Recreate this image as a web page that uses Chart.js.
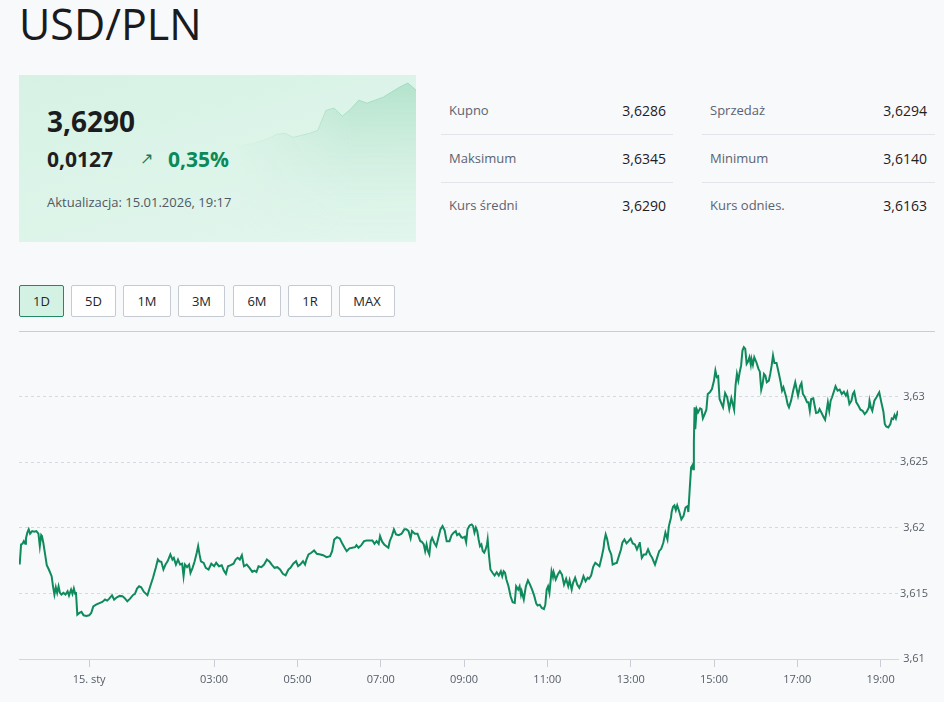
<!DOCTYPE html>
<html lang="pl">
<head>
<meta charset="utf-8">
<title>USD/PLN</title>
<script src="https://cdn.jsdelivr.net/npm/chart.js@4.4.1/dist/chart.umd.min.js"></script>
<style>
  html, body { margin: 0; padding: 0; }
  body {
    width: 944px; height: 702px; position: relative; overflow: hidden;
    background: #f8f9fa; font-family: "Open Sans", sans-serif; color: #1d1f22;
  }
  .abs { position: absolute; line-height: 1; white-space: nowrap; }
  h1 { position: absolute; left: 19px; top: 2px; margin: 0; font-size: 43px; font-weight: 400; line-height: 1; color: #1a1b1e; }
  .card { position: absolute; left: 19px; top: 75px; width: 397px; height: 167px; background: linear-gradient(165deg, #d7f2e5 0%, #e2f6ed 100%); }
  .spark { position: absolute; left: 236px; top: 75px; width: 180px; height: 167px;
    -webkit-mask-image: linear-gradient(to right, transparent 0%, #000 65%); mask-image: linear-gradient(to right, transparent 0%, #000 65%); }
  .big { font-size: 28px; font-weight: 700; color: #1b1c1f; }
  .chg { font-size: 21px; font-weight: 700; }
  .up { color: #0a8a58; }
  .upd { font-size: 13px; color: #4f5864; }
  .lbl { font-size: 13px; font-weight: 500; color: #5b6371; }
  .val { font-size: 14px; font-weight: 500; color: #1e2023; }
  .sep { position: absolute; height: 1px; background: #e2e4e9; }
  .btn { position: absolute; top: 285px; height: 32px; box-sizing: border-box; border: 1px solid #c5c9d1; border-radius: 2px;
    background: #fff; font-size: 13px; font-weight: 500; line-height: 30px; text-align: center; color: #23252a; }
  .btn.on { background: #d3f2e4; border-color: #1f8a63; }
  .rule { position: absolute; left: 19px; top: 331px; width: 916px; height: 1px; background: #c9ccd9; }
  .plot { position: absolute; left: 19px; top: 331px; width: 925px; height: 371px; }
</style>
</head>
<body>
<h1>USD/PLN</h1>

<div class="card"></div>
<div class="spark"><canvas id="trend"></canvas></div>
<div class="abs big" style="left:47px; top:107px;">3,6290</div>
<div class="abs chg" style="left:47px; top:149px;">0,0127</div>
<div class="abs up" style="left:140px; top:150px; font-size:16px; color:#1b7a55;">↗</div>
<div class="abs chg up" style="left:168px; top:149px;">0,35%</div>
<div class="abs upd" style="left:47px; top:196px;">Aktualizacja: 15.01.2026, 19:17</div>

<div class="abs lbl" style="left:449px; top:104px;">Kupno</div>
<div class="abs val" style="right:278px; top:104px;">3,6286</div>
<div class="abs lbl" style="left:710px; top:104px;">Sprzedaż</div>
<div class="abs val" style="right:17px; top:104px;">3,6294</div>
<div class="sep" style="left:441px; top:134px; width:232px;"></div>
<div class="sep" style="left:702px; top:134px; width:233px;"></div>
<div class="abs lbl" style="left:449px; top:152px;">Maksimum</div>
<div class="abs val" style="right:278px; top:152px;">3,6345</div>
<div class="abs lbl" style="left:710px; top:152px;">Minimum</div>
<div class="abs val" style="right:17px; top:152px;">3,6140</div>
<div class="sep" style="left:441px; top:182px; width:232px;"></div>
<div class="sep" style="left:702px; top:182px; width:233px;"></div>
<div class="abs lbl" style="left:449px; top:199px;">Kurs średni</div>
<div class="abs val" style="right:278px; top:199px;">3,6290</div>
<div class="abs lbl" style="left:710px; top:199px;">Kurs odnies.</div>
<div class="abs val" style="right:17px; top:199px;">3,6163</div>

<div class="btn on" style="left:19px; width:45px;">1D</div>
<div class="btn" style="left:71px; width:45px;">5D</div>
<div class="btn" style="left:123px; width:48px;">1M</div>
<div class="btn" style="left:178px; width:47px;">3M</div>
<div class="btn" style="left:233px; width:48px;">6M</div>
<div class="btn" style="left:288px; width:44px;">1R</div>
<div class="btn" style="left:339px; width:56px;">MAX</div>

<div class="rule"></div>
<div class="plot"><canvas id="kurs"></canvas></div>

<script>
// notowania USD/PLN, 14.01 22:20 -> 15.01 19:25 (czas lokalny)
const times = [
  "22:20","22:22","22:24","22:26","22:28","22:29","22:31","22:33","22:35","22:38",
  "22:41","22:44","22:47","22:49","22:51","22:52","22:54","22:57","22:59","23:02",
  "23:06","23:08","23:10","23:12","23:14","23:16","23:18","23:20","23:23","23:26",
  "23:29","23:31","23:34","23:36","23:38","23:40","23:41","23:43","23:46","23:49",
  "23:52","23:56","00:00","00:03","00:06","00:10","00:14","00:19","00:23","00:26",
  "00:29","00:33","00:36","00:40","00:44","00:48","00:51","00:55","00:59","01:03",
  "01:06","01:09","01:12","01:15","01:19","01:24","01:27","01:32","01:36","01:39",
  "01:41","01:44","01:47","01:50","01:53","01:57","02:00","02:02","02:05","02:08",
  "02:11","02:14","02:16","02:18","02:21","02:24","02:26","02:29","02:32","02:35",
  "02:37","02:39","02:41","02:45","02:48","02:52","02:56","03:00","03:03","03:07",
  "03:11","03:14","03:17","03:20","03:24","03:28","03:31","03:34","03:37","03:40",
  "03:43","03:47","03:51","03:55","03:58","04:01","04:04","04:08","04:12","04:16",
  "04:20","04:23","04:27","04:31","04:35","04:39","04:43","04:47","04:50","04:54",
  "04:58","05:01","05:04","05:08","05:11","05:13","05:16","05:20","05:24","05:28",
  "05:33","05:37","05:42","05:47","05:50","05:53","05:57","06:01","06:04","06:08",
  "06:11","06:15","06:19","06:23","06:25","06:28","06:32","06:36","06:40","06:44",
  "06:48","06:51","06:54","06:57","06:59","07:02","07:05","07:08","07:11","07:13",
  "07:16","07:19","07:22","07:26","07:30","07:34","07:37","07:40","07:43","07:45",
  "07:49","07:53","07:57","07:59","08:02","08:04","08:06","08:08","08:10","08:12",
  "08:14","08:17","08:20","08:23","08:26","08:29","08:32","08:35","08:39","08:42",
  "08:45","08:48","08:50","08:53","08:56","08:58","09:01","09:03","09:05","09:08",
  "09:11","09:13","09:15","09:17","09:19","09:21","09:23","09:25","09:27","09:29",
  "09:31","09:33","09:34","09:36","09:38","09:41","09:44","09:47","09:50","09:53",
  "09:55","09:57","09:59","10:01","10:04","10:07","10:10","10:13","10:15","10:18",
  "10:20","10:22","10:23","10:26","10:29","10:32","10:35","10:38","10:41","10:44",
  "10:46","10:49","10:52","10:55","10:57","10:59","11:01","11:03","11:06","11:08",
  "11:09","11:12","11:15","11:18","11:21","11:24","11:27","11:30","11:32","11:35",
  "11:37","11:40","11:43","11:46","11:49","11:52","11:55","11:58","12:00","12:03",
  "12:06","12:09","12:12","12:15","12:18","12:21","12:22","12:24","12:26","12:29",
  "12:32","12:34","12:37","12:40","12:43","12:46","12:48","12:51","12:54","12:57",
  "13:00","13:03","13:06","13:09","13:12","13:13","13:16","13:19","13:22","13:25",
  "13:28","13:31","13:33","13:35","13:38","13:41","13:44","13:47","13:50","13:53",
  "13:55","13:58","13:59","14:01","14:03","14:05","14:07","14:10","14:13","14:16",
  "14:19","14:22","14:23","14:25","14:27","14:29","14:30","14:31","14:32","14:33",
  "14:35","14:37","14:40","14:42","14:44","14:46","14:49","14:51","14:54","14:57",
  "15:00","15:02","15:04","15:06","15:08","15:10","15:13","15:16","15:19","15:22",
  "15:25","15:27","15:29","15:31","15:33","15:35","15:37","15:39","15:41","15:43",
  "15:45","15:47","15:49","15:51","15:53","15:54","15:56","15:58","16:01","16:04",
  "16:06","16:08","16:10","16:12","16:14","16:16","16:19","16:21","16:23","16:25",
  "16:27","16:30","16:33","16:36","16:38","16:40","16:42","16:44","16:46","16:48",
  "16:51","16:54","16:57","16:59","17:01","17:04","17:06","17:08","17:11","17:14",
  "17:16","17:18","17:20","17:23","17:25","17:27","17:30","17:32","17:35","17:38",
  "17:40","17:42","17:44","17:46","17:48","17:50","17:53","17:55","17:58","18:01",
  "18:04","18:07","18:10","18:12","18:15","18:18","18:20","18:22","18:25","18:28",
  "18:31","18:34","18:37","18:40","18:43","18:44","18:46","18:48","18:51","18:54",
  "18:58","19:01","19:04","19:06","19:08","19:11","19:14","19:16","19:18","19:20","19:22","19:25"
];
const rates = [
  3.6172, 3.61873, 3.61878, 3.61898, 3.61878, 3.61919, 3.61963, 3.61988, 3.61955, 3.61975,
  3.6197, 3.61975, 3.61955, 3.6186, 3.61944, 3.61937, 3.61886, 3.61784, 3.61715, 3.61682,
  3.61631, 3.61554, 3.61491, 3.61547, 3.61504, 3.61554, 3.61504, 3.61491, 3.61504, 3.61491,
  3.61516, 3.61483, 3.61529, 3.61496, 3.61537, 3.61496, 3.61511, 3.61338, 3.61351, 3.61359,
  3.61333, 3.61328, 3.61333, 3.61351, 3.61401, 3.61414, 3.61424, 3.61435, 3.61453, 3.61445,
  3.6146, 3.61486, 3.61453, 3.6147, 3.61481, 3.61478, 3.61466, 3.6144, 3.6146, 3.61486,
  3.61496, 3.61537, 3.61554, 3.61547, 3.61511, 3.61486, 3.61537, 3.61619, 3.61695, 3.61758,
  3.61745, 3.61741, 3.61682, 3.6172, 3.61745, 3.61797, 3.61758, 3.61771, 3.6172, 3.61758,
  3.6172, 3.61726, 3.61631, 3.6172, 3.617, 3.6172, 3.61657, 3.61695, 3.61745, 3.6181,
  3.6186, 3.61797, 3.61745, 3.61733, 3.61695, 3.61682, 3.61726, 3.61707, 3.61733, 3.61707,
  3.61715, 3.61674, 3.61649, 3.61707, 3.61715, 3.61726, 3.61758, 3.61771, 3.61758, 3.61791,
  3.61707, 3.6172, 3.61695, 3.61664, 3.61674, 3.61664, 3.61707, 3.617, 3.6172, 3.61758,
  3.61741, 3.6172, 3.61695, 3.617, 3.61682, 3.61649, 3.61638, 3.61682, 3.61695, 3.61726,
  3.61745, 3.61707, 3.6172, 3.61745, 3.6172, 3.61758, 3.61797, 3.6181, 3.61827, 3.61802,
  3.61797, 3.61791, 3.61776, 3.61784, 3.61822, 3.61911, 3.61929, 3.61919, 3.61886, 3.61848,
  3.61822, 3.61843, 3.61848, 3.61852, 3.61868, 3.61848, 3.61868, 3.61898, 3.61904, 3.61904,
  3.61904, 3.61878, 3.61898, 3.61878, 3.61937, 3.61894, 3.61873, 3.6186, 3.61848, 3.61898,
  3.61937, 3.61988, 3.6195, 3.61944, 3.61955, 3.61988, 3.61988, 3.61975, 3.61919, 3.61975,
  3.61955, 3.61955, 3.61898, 3.61894, 3.61873, 3.61822, 3.61873, 3.61822, 3.61797, 3.61898,
  3.61924, 3.61886, 3.6186, 3.61924, 3.61988, 3.62013, 3.6198, 3.61898, 3.61898, 3.61944,
  3.61963, 3.61975, 3.61944, 3.61955, 3.61929, 3.61924, 3.61932, 3.61891, 3.61988, 3.62018,
  3.62026, 3.62013, 3.61963, 3.62001, 3.61975, 3.61911, 3.6186, 3.61873, 3.61822, 3.6181,
  3.61835, 3.61873, 3.61911, 3.61784, 3.61682, 3.61657, 3.61636, 3.61661, 3.61636, 3.61669,
  3.61631, 3.61669, 3.61657, 3.61606, 3.61554, 3.61478, 3.61432, 3.61427, 3.61554, 3.61529,
  3.61554, 3.61491, 3.61516, 3.61453, 3.61554, 3.616, 3.61567, 3.61529, 3.61483, 3.61422,
  3.61407, 3.61414, 3.61389, 3.61381, 3.61414, 3.61529, 3.61554, 3.61504, 3.61669, 3.61626,
  3.61661, 3.61606, 3.61644, 3.61669, 3.61644, 3.61567, 3.61611, 3.61554, 3.616, 3.61529,
  3.6158, 3.61619, 3.61567, 3.61542, 3.6158, 3.61631, 3.61593, 3.61619, 3.61611, 3.61636,
  3.61703, 3.61733, 3.6172, 3.61707, 3.61771, 3.61848, 3.61898, 3.6195, 3.61917, 3.61835,
  3.61797, 3.6172, 3.61728, 3.61733, 3.61784, 3.61835, 3.61886, 3.61911, 3.61881, 3.61898,
  3.61917, 3.61881, 3.61873, 3.61835, 3.61873, 3.61891, 3.61771, 3.61797, 3.61797, 3.61835,
  3.61797, 3.61771, 3.61745, 3.6172, 3.61771, 3.61822, 3.6184, 3.61886, 3.61963, 3.61911,
  3.62013, 3.62077, 3.6212, 3.62161, 3.62171, 3.62135, 3.62171, 3.62122, 3.62064, 3.62089,
  3.62154, 3.62166, 3.6212, 3.62294, 3.62459, 3.62477, 3.62446, 3.62651, 3.62918, 3.62752,
  3.62905, 3.6288, 3.62911, 3.62905, 3.62834, 3.62859, 3.629, 3.6302, 3.63033, 3.63058,
  3.63122, 3.63198, 3.63148, 3.63155, 3.62982, 3.62956, 3.62918, 3.63027, 3.62995, 3.62905,
  3.62987, 3.62943, 3.629, 3.63083, 3.63173, 3.63122, 3.63186, 3.63236, 3.63351, 3.63377,
  3.63364, 3.63249, 3.63267, 3.633, 3.63242, 3.63287, 3.63242, 3.633, 3.63262, 3.63211,
  3.6319, 3.63053, 3.63096, 3.63173, 3.6316, 3.63109, 3.63122, 3.63173, 3.63236, 3.63313,
  3.63257, 3.63257, 3.63186, 3.63109, 3.63045, 3.63071, 3.63033, 3.62995, 3.62943, 3.62918,
  3.62969, 3.63045, 3.63109, 3.63058, 3.63007, 3.63083, 3.63104, 3.6302, 3.62995, 3.62956,
  3.62956, 3.62892, 3.62982, 3.62987, 3.6293, 3.62875, 3.6288, 3.62905, 3.62875, 3.62842,
  3.62823, 3.62885, 3.62956, 3.62892, 3.62969, 3.62995, 3.63045, 3.63079, 3.63045, 3.63053,
  3.6302, 3.63037, 3.63007, 3.63033, 3.62943, 3.62969, 3.6302, 3.63037, 3.62956, 3.6293,
  3.629, 3.62892, 3.62867, 3.62885, 3.62918, 3.62969, 3.62918, 3.62892, 3.62969, 3.62995,
  3.63033, 3.62956, 3.62885, 3.62791, 3.62773, 3.62765, 3.62791, 3.62834, 3.62829, 3.62859, 3.62834, 3.62892
];

const xTickMinutes = [0, 180, 300, 420, 540, 660, 780, 900, 1020, 1140];
const xTickLabels = ["15. sty", "03:00", "05:00", "07:00", "09:00", "11:00", "13:00", "15:00", "17:00", "19:00"];
const yTicks = [3.61, 3.615, 3.62, 3.625, 3.63];

// tlo karty: ogolny ksztalt trendu (poziom wzgledny)
const cardTrend = [94, 96, 98, 100, 103, 107, 108, 104, 106, 108, 111, 131, 133, 125, 132, 141, 138, 141, 144, 149, 154, 158, 151];

// godziny >= 20 to jeszcze 14.01
function toMinutes(t) {
  const [h, m] = t.split(":").map(Number);
  return (h >= 20 ? h - 24 : h) * 60 + m;
}

const points = times.map((t, i) => ({ x: toMinutes(t), y: rates[i] }));
const axisFont = { family: '"Open Sans", sans-serif', size: 11 };

new Chart(document.getElementById("kurs"), {
  type: "line",
  data: {
    datasets: [{
      data: points,
      borderColor: "#0f8a5c",
      borderWidth: 2,
      pointRadius: 0,
      tension: 0,
      fill: false
    }]
  },
  options: {
    responsive: true,
    maintainAspectRatio: false,
    animation: false,
    layout: { padding: 0 },
    plugins: { legend: { display: false }, tooltip: { enabled: false } },
    scales: {
      x: {
        type: "linear",
        min: -101,
        max: 1165,
        afterBuildTicks: a => { a.ticks = xTickMinutes.map(v => ({ value: v })); },
        afterFit: a => { a.height = 43; a.paddingLeft = 0; a.paddingRight = 0; },
        ticks: {
          autoSkip: false,
          maxRotation: 0,
          padding: 6,
          color: "#555b66",
          font: axisFont,
          callback: v => xTickLabels[xTickMinutes.indexOf(v)]
        },
        grid: { drawOnChartArea: false, drawTicks: true, tickLength: 8, tickColor: "#c9cdd6", color: "#c9cdd6" },
        border: { display: true, color: "#d3d6de", width: 1 }
      },
      y: {
        position: "right",
        min: 3.61,
        max: 3.635,
        afterBuildTicks: a => { a.ticks = yTicks.map(v => ({ value: v })); },
        afterFit: a => { a.width = 46; a.paddingTop = 0; a.paddingBottom = 0; },
        ticks: {
          padding: 2,
          crossAlign: "center",
          color: "#555b66",
          font: axisFont,
          callback: v => String(v).replace(".", ",")
        },
        grid: { color: "#d6d9df", drawTicks: false },
        border: { display: false, dash: [3, 3] }
      }
    }
  }
});

new Chart(document.getElementById("trend"), {
  type: "line",
  data: {
    labels: cardTrend.map((_, i) => i),
    datasets: [{
      data: cardTrend,
      borderColor: "rgba(150, 214, 184, 0.7)",
      borderWidth: 1,
      pointRadius: 0,
      tension: 0,
      fill: "start",
      backgroundColor: ctx => {
        const area = ctx.chart.chartArea;
        if (!area) return "rgba(160, 220, 190, 0.4)";
        const g = ctx.chart.ctx.createLinearGradient(0, area.top, 0, area.bottom);
        g.addColorStop(0, "rgba(140, 210, 176, 0.55)");
        g.addColorStop(1, "rgba(215, 242, 229, 0)");
        return g;
      }
    }]
  },
  options: {
    responsive: true,
    maintainAspectRatio: false,
    animation: false,
    layout: { padding: 0 },
    plugins: { legend: { display: false }, tooltip: { enabled: false } },
    scales: {
      x: { display: false, offset: false },
      y: { display: false, min: 0, max: 166 }
    }
  }
});
</script>
</body>
</html>
